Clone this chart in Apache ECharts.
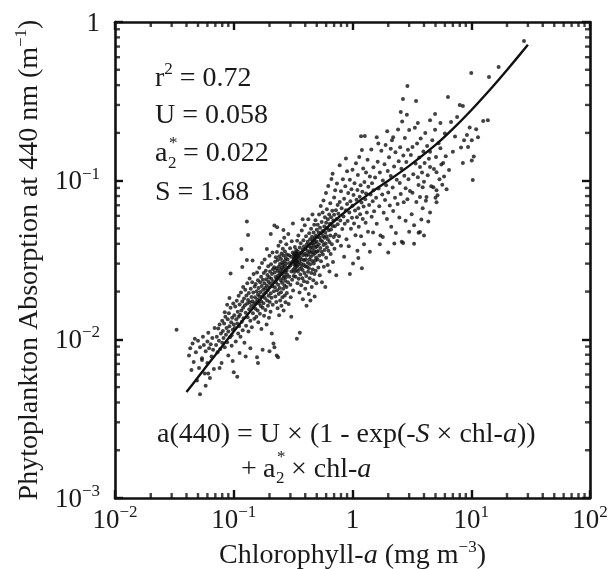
<!DOCTYPE html>
<html>
<head>
<meta charset="utf-8">
<script src="https://cdn.jsdelivr.net/npm/echarts@6/dist/echarts.min.js"></script>
<style>html,body{margin:0;padding:0;background:#fff;}#chart{width:608px;height:569px;}</style>
</head>
<body>
<div id="chart"></div>
<script>
// Scatter points: [chlorophyll-a (mg m^-3), a(440) (m^-1)]
const points = [
[0.042,0.0079],[0.043,0.0088],[0.045,0.0094],[0.046,0.0072],[0.047,0.0101],[0.048,0.0083],[0.05,0.0098],[0.051,0.0066],[0.052,0.0045],[0.052,0.0089],[0.054,0.0076],[0.055,0.0104],[0.056,0.0092],[0.057,0.0061],[0.058,0.0084],[0.06,0.0097],[0.06,0.0071],[0.061,0.011],[0.062,0.0088],[0.063,0.0057],[0.064,0.0093],[0.065,0.0078],[0.066,0.0102],[0.067,0.0086],[0.068,0.0065],[0.069,0.0118],[0.033,0.0115],[0.044,0.0064],[0.049,0.0055],[0.058,0.0051],
[0.071,0.0092],[0.072,0.0104],[0.073,0.0083],[0.074,0.0117],[0.075,0.0098],[0.076,0.0124],[0.077,0.0087],[0.078,0.0109],[0.079,0.0071],[0.08,0.0131],[0.08,0.0095],[0.081,0.0113],[0.082,0.0102],[0.083,0.0126],[0.084,0.0089],[0.085,0.0139],[0.086,0.0107],[0.087,0.0118],[0.088,0.0096],[0.089,0.0134],[0.09,0.0112],[0.09,0.0079],[0.091,0.0146],[0.092,0.0121],[0.093,0.0103],[0.094,0.0158],[0.095,0.0128],[0.096,0.0091],[0.097,0.0137],[0.098,0.0115],[0.099,0.0168],[0.1,0.0124],[0.094,0.026],[0.088,0.0165],[0.076,0.0066],[0.098,0.0073],[0.1,0.0062],[0.084,0.0148],[0.092,0.0182],[0.096,0.0106],
[0.101,0.0142],[0.102,0.0118],[0.103,0.0161],[0.104,0.0097],[0.105,0.0134],[0.106,0.0175],[0.107,0.0058],[0.107,0.0126],[0.108,0.0149],[0.109,0.0109],[0.11,0.0188],[0.11,0.0139],[0.111,0.0121],[0.112,0.0166],[0.113,0.0143],[0.114,0.0104],[0.115,0.0197],[0.116,0.0371],[0.116,0.0152],[0.117,0.0129],[0.118,0.0173],[0.119,0.0114],[0.12,0.0214],[0.12,0.0158],[0.121,0.0136],[0.122,0.0181],[0.123,0.0095],[0.124,0.0164],[0.125,0.0205],[0.126,0.0147],[0.127,0.0122],[0.128,0.0189],[0.129,0.0552],[0.13,0.0168],[0.13,0.0226],[0.131,0.0138],[0.132,0.0177],[0.133,0.0112],[0.134,0.0196],[0.135,0.0155],[0.136,0.0242],[0.137,0.0171],[0.138,0.0131],[0.139,0.0208],[0.14,0.0162],[0.141,0.0185],[0.142,0.0119],[0.143,0.0229],[0.144,0.0174],[0.145,0.0146],[0.146,0.0197],[0.147,0.0258],[0.148,0.0167],[0.149,0.0135],[0.15,0.0215],[0.112,0.0082],[0.126,0.0078],[0.138,0.0088],[0.118,0.0286],[0.144,0.0314],[0.129,0.0316],[0.132,0.0455],
[0.151,0.0184],[0.152,0.0156],[0.153,0.0223],[0.154,0.0171],[0.155,0.0139],[0.156,0.0201],[0.157,0.0264],[0.158,0.0178],[0.159,0.0152],[0.16,0.0236],[0.16,0.0192],[0.161,0.0128],[0.162,0.0211],[0.163,0.0168],[0.164,0.0283],[0.165,0.0187],[0.166,0.0145],[0.167,0.0229],[0.168,0.0199],[0.169,0.0162],[0.17,0.0248],[0.17,0.0174],[0.171,0.0116],[0.172,0.0217],[0.173,0.0303],[0.174,0.0186],[0.175,0.0086],[0.175,0.0158],[0.176,0.0237],[0.177,0.0205],[0.178,0.0169],[0.179,0.0262],[0.18,0.0193],[0.18,0.0141],[0.181,0.0226],[0.182,0.0318],[0.183,0.0182],[0.184,0.0211],[0.185,0.0153],[0.186,0.0271],[0.187,0.0197],[0.188,0.0239],[0.189,0.0124],[0.19,0.0371],[0.19,0.0218],[0.191,0.0176],[0.192,0.0254],[0.193,0.0204],[0.194,0.0163],[0.195,0.0289],[0.196,0.0231],[0.197,0.0188],[0.198,0.0137],[0.199,0.0246],[0.2,0.0212],[0.2,0.0336],[0.201,0.0172],[0.202,0.0268],[0.203,0.0225],[0.204,0.0149],[0.205,0.0195],[0.206,0.0297],[0.207,0.0241],[0.208,0.0183],[0.209,0.0109],[0.21,0.0258],[0.211,0.0216],[0.212,0.0352],[0.213,0.0165],[0.214,0.0277],[0.215,0.0232],[0.216,0.0094],[0.218,0.0201],[0.22,0.0522],[0.22,0.0089],[0.219,0.0285],[0.157,0.0077],[0.2,0.0084],[0.16,0.0071],[0.205,0.0462],
[0.221,0.0264],[0.222,0.0213],[0.223,0.0308],[0.224,0.0186],[0.225,0.0247],[0.226,0.0329],[0.227,0.0228],[0.228,0.0172],[0.229,0.0281],[0.23,0.0079],[0.23,0.0239],[0.231,0.0355],[0.232,0.0204],[0.233,0.0271],[0.234,0.0157],[0.235,0.0316],[0.236,0.0252],[0.237,0.0221],[0.238,0.0389],[0.239,0.0193],[0.24,0.0287],[0.24,0.0245],[0.241,0.0142],[0.242,0.0334],[0.243,0.0262],[0.244,0.0211],[0.245,0.0298],[0.246,0.0176],[0.247,0.0274],[0.248,0.0412],[0.249,0.0236],[0.25,0.0321],[0.25,0.0198],[0.251,0.0259],[0.252,0.0163],[0.253,0.0347],[0.254,0.0283],[0.255,0.0227],[0.256,0.0305],[0.257,0.0184],[0.258,0.0266],[0.259,0.0372],[0.26,0.0243],[0.26,0.0295],[0.261,0.0208],[0.262,0.0338],[0.263,0.0152],[0.264,0.0278],[0.265,0.0251],[0.266,0.0436],[0.267,0.0219],[0.268,0.0312],[0.269,0.0189],[0.27,0.0289],[0.27,0.0358],[0.271,0.0234],[0.272,0.0265],[0.273,0.0171],[0.274,0.0326],[0.275,0.0246],[0.276,0.0301],[0.277,0.0397],[0.278,0.0214],[0.279,0.0272],[0.28,0.0343],[0.28,0.0196],[0.282,0.0256],[0.284,0.0318],[0.286,0.0229],[0.288,0.0462],[0.29,0.0284],[0.29,0.0167],[0.292,0.0339],[0.294,0.0248],[0.296,0.0303],[0.298,0.0375],[0.3,0.0221],[0.3,0.0292],[0.302,0.0184],[0.304,0.0331],[0.306,0.0268],[0.308,0.0415],[0.31,0.0237],[0.312,0.0309],[0.314,0.0352],[0.316,0.0203],[0.318,0.0276],[0.32,0.0322],[0.32,0.0251],[0.305,0.0139],[0.232,0.0508],[0.262,0.0489],[0.315,0.0538],[0.236,0.0077],
[0.321,0.0342],[0.322,0.0297],[0.323,0.0318],[0.324,0.0266],[0.325,0.0335],[0.326,0.0309],[0.327,0.0382],[0.328,0.0284],[0.329,0.0327],[0.33,0.0351],[0.33,0.0302],[0.331,0.0248],[0.332,0.0339],[0.333,0.0316],[0.334,0.0293],[0.335,0.0365],[0.336,0.0328],[0.337,0.0274],[0.338,0.0311],[0.339,0.0347],[0.34,0.0101],[0.34,0.0322],[0.341,0.0289],[0.342,0.0418],[0.343,0.0337],[0.344,0.0226],[0.345,0.0305],[0.346,0.0359],[0.347,0.0268],[0.348,0.0331],[0.35,0.0296],[0.35,0.0452],[0.352,0.0241],[0.354,0.0345],[0.356,0.0312],[0.358,0.0197],[0.36,0.0379],[0.36,0.0278],[0.362,0.0327],[0.364,0.0256],[0.366,0.0403],[0.368,0.0301],[0.37,0.0219],[0.37,0.0352],[0.372,0.0287],[0.374,0.0486],[0.376,0.0318],[0.378,0.0243],[0.38,0.0367],[0.38,0.0274],[0.382,0.0179],[0.384,0.0339],[0.386,0.0421],[0.388,0.0296],[0.39,0.0232],[0.39,0.0384],[0.392,0.0315],[0.394,0.0262],[0.396,0.0523],[0.398,0.0346],[0.4,0.0289],[0.4,0.0208],[0.402,0.0372],[0.404,0.0318],[0.406,0.0447],[0.408,0.0251],[0.41,0.0338],[0.41,0.0163],[0.412,0.0396],[0.414,0.0287],[0.416,0.0229],[0.418,0.0361],[0.42,0.0412],[0.42,0.0304],[0.422,0.0267],[0.424,0.0572],[0.426,0.0342],[0.428,0.0193],[0.43,0.0387],[0.43,0.0281],[0.432,0.0466],[0.434,0.0319],[0.436,0.0243],[0.438,0.0358],[0.44,0.0428],[0.44,0.0297],[0.442,0.0176],[0.444,0.0376],[0.446,0.0332],[0.448,0.0498],[0.45,0.0262],[0.45,0.0401],[0.452,0.0354],[0.454,0.0214],[0.456,0.0443],[0.458,0.0312],[0.46,0.0612],[0.46,0.0378],[0.462,0.0276],[0.464,0.0419],[0.466,0.0341],[0.468,0.0236],[0.47,0.0472],[0.47,0.0395],[0.472,0.0301],[0.474,0.0362],[0.476,0.0528],[0.478,0.0258],[0.48,0.0433],[0.48,0.0186],[0.482,0.0349],[0.484,0.0407],[0.486,0.0314],[0.488,0.0563],[0.49,0.0271],[0.49,0.0381],[0.492,0.0452],[0.494,0.0328],[0.496,0.0226],[0.498,0.0414],[0.5,0.0357],[0.5,0.0491],[0.38,0.0571],[0.36,0.011],
[0.502,0.0386],[0.505,0.0442],[0.508,0.0318],[0.51,0.0527],[0.513,0.0361],[0.516,0.0284],[0.52,0.0471],[0.52,0.0398],[0.523,0.0612],[0.526,0.0337],[0.53,0.0439],[0.53,0.0253],[0.533,0.0505],[0.536,0.0376],[0.54,0.0693],[0.54,0.0421],[0.543,0.0311],[0.546,0.0467],[0.55,0.0548],[0.55,0.0357],[0.553,0.0229],[0.556,0.0413],[0.56,0.0629],[0.56,0.0482],[0.563,0.0342],[0.566,0.0448],[0.57,0.0751],[0.57,0.0393],[0.574,0.0287],[0.578,0.0514],[0.58,0.0436],[0.582,0.0365],[0.586,0.0588],[0.59,0.0471],[0.59,0.0214],[0.594,0.0402],[0.598,0.0837],[0.6,0.0542],[0.6,0.0327],[0.604,0.0446],[0.608,0.0661],[0.61,0.0381],[0.614,0.0503],[0.618,0.0294],[0.62,0.0572],[0.62,0.0428],[0.625,0.0925],[0.628,0.0362],[0.632,0.0487],[0.636,0.0613],[0.64,0.0411],[0.64,0.0268],[0.645,0.0536],[0.65,0.0721],[0.65,0.0452],[0.655,0.0345],[0.66,0.0589],[0.66,0.0493],[0.665,0.1023],[0.67,0.0397],[0.675,0.0647],[0.68,0.0518],[0.68,0.1105],[0.685,0.0307],[0.69,0.0562],[0.695,0.0441],[0.7,0.0784],[0.7,0.0609],[0.705,0.0372],[0.71,0.0516],[0.715,0.0869],[0.72,0.0458],[0.725,0.0652],[0.73,0.0253],[0.735,0.0574],[0.74,0.0961],[0.745,0.0416],[0.75,0.0703],[0.75,0.0531],
[0.76,0.0618],[0.77,0.0447],[0.78,0.1252],[0.78,0.0734],[0.79,0.0562],[0.8,0.0389],[0.8,0.0857],[0.81,0.0671],[0.82,0.0495],[0.83,0.1021],[0.84,0.0594],[0.85,0.0332],[0.85,0.0768],[0.86,0.0536],[0.87,0.0923],[0.88,0.0651],[0.89,0.0428],[0.9,0.1148],[0.9,0.0712],[0.91,0.0557],[0.92,0.0836],[0.93,0.0386],[0.94,0.0629],[0.95,0.1013],[0.96,0.0743],[0.97,0.0498],[0.98,0.0882],[0.99,0.0584],[1.0,0.117],[1.0,0.0695],[1.01,0.0301],[1.02,0.0812],[1.03,0.0537],[1.04,0.0964],[1.05,0.0648],[1.06,0.0453],[1.07,0.1286],[1.08,0.0759],[1.09,0.0589],[1.1,0.0874],[1.1,0.0362],[1.11,0.1087],[1.12,0.0671],[1.13,0.0512],[1.14,0.1412],[1.15,0.0793],[1.16,0.0614],[1.17,0.0935],[1.18,0.1905],[1.18,0.0446],[1.19,0.0728],[1.2,0.156],[1.2,0.0281],[1.21,0.0852],[1.22,0.0574],[1.23,0.1193],[1.24,0.0687],[1.25,0.0398],[1.26,0.0981],[1.27,0.191],[1.28,0.0763],[1.29,0.0542],[1.3,0.1124],[1.3,0.0829],[1.32,0.0631],[1.34,0.1357],[1.35,0.0476],[1.36,0.0914],[1.38,0.0702],[1.4,0.1062],[1.4,0.0357],[1.42,0.0818],[1.44,0.1573],[1.45,0.0593],[1.46,0.0963],[1.48,0.0741],[1.49,0.0472],[1.5,0.1214],[1.5,0.0869],[0.95,0.0258],[1.12,0.0325],[0.88,0.1378],
[1.52,0.0642],[1.55,0.1048],[1.58,0.0781],[1.6,0.188],[1.6,0.0536],[1.63,0.1315],[1.66,0.0893],[1.68,0.0689],[1.7,0.1127],[1.72,0.0452],[1.75,0.1542],[1.78,0.0817],[1.8,0.0441],[1.8,0.1004],[1.83,0.0628],[1.86,0.1268],[1.88,0.0756],[1.9,0.1681],[1.92,0.0934],[1.95,0.0573],[1.98,0.1152],[2.0,0.0352],[2.0,0.0842],[2.03,0.1406],[2.06,0.0697],[2.1,0.1071],[2.12,0.0512],[2.15,0.1795],[2.18,0.0905],[2.2,0.188],[2.2,0.0643],[2.24,0.1229],[2.28,0.0781],[2.3,0.1512],[2.32,0.0468],[2.36,0.1013],[2.4,0.0712],[2.42,0.2104],[2.45,0.1324],[2.48,0.0587],[2.5,0.0968],[2.52,0.1623],[2.55,0.0824],[2.58,0.1187],[2.6,0.0412],[2.62,0.2356],[2.66,0.327],[2.67,0.0405],[2.68,0.1442],[2.7,0.0731],[2.73,0.1075],[2.76,0.1857],[2.8,0.0896],[2.8,0.0558],[2.84,0.1309],[2.87,0.2602],[2.9,0.395],[2.9,0.0765],[2.93,0.1564],[2.96,0.1021],[3.0,0.0476],[3.0,0.2083],[1.65,0.1714],[1.96,0.2052],[2.25,0.0402],[2.55,0.2708],[1.7,0.0397],[2.1,0.1592],
[3.05,0.0862],[3.1,0.1452],[3.15,0.0614],[3.2,0.163],[3.2,0.084],[3.25,0.1096],[3.3,0.0523],[3.35,0.2152],[3.4,0.1284],[3.43,0.318],[3.45,0.0735],[3.5,0.1715],[3.55,0.231],[3.55,0.105],[3.6,0.0938],[3.65,0.1398],[3.7,0.079],[3.7,0.0475],[3.7,0.122],[3.75,0.1842],[3.8,0.057],[3.85,0.1124],[3.9,0.091],[3.9,0.067],[3.95,0.1527],[4.0,0.0984],[4.05,0.1291],[4.1,0.2],[4.15,0.0746],[4.2,0.079],[4.25,0.1656],[4.3,0.1082],[4.35,0.0553],[4.4,0.1373],[4.5,0.24],[4.5,0.152],[4.5,0.122],[4.5,0.063],[4.6,0.0921],[4.7,0.1795],[4.8,0.091],[4.85,0.1183],[4.96,0.263],[4.96,0.209],[5.0,0.078],[5.05,0.1412],[5.1,0.113],[5.1,0.087],[5.1,0.073],[5.2,0.081],[5.3,0.1724],[5.4,0.1019],[5.5,0.231],[5.5,0.16],[5.6,0.1265],[5.7,0.0941],[5.8,0.129],[5.9,0.1063],[6.0,0.1983],[6.1,0.1427],[6.2,0.0882],[6.37,0.337],[6.5,0.1166],[6.76,0.234],[7.0,0.1521],[7.3,0.1896],[7.6,0.252],[8.0,0.3],[8.2,0.162],[8.5,0.296],[8.5,0.129],[8.7,0.18],[9.2,0.194],[9.4,0.163],[9.7,0.216],[3.3,0.0401],[3.6,0.0469],[4.0,0.0452],
[10.0,0.477],[10.1,0.18],[10.1,0.134],[10.5,0.142],[11.4,0.188],[12.6,0.238],[13.8,0.24],[14.1,0.45],[17.0,0.52],[27.8,0.76],[10.3,0.101],[11.0,0.211],
[0.061,0.0061],[0.054,0.0074]
];

// Fitted curve: [chl-a, a(440)]
const curveChl = [0.04,0.05,0.07,0.1,0.15,0.2,0.3,0.4,0.5,0.7,1,1.5,2,3,5,7,10,15,20,30];
const curveAbs = [0.00465,0.00577,0.00797,0.0112,0.0162,0.021,0.0296,0.0372,0.044,0.0555,0.0692,0.0863,0.1,0.124,0.168,0.212,0.278,0.388,0.498,0.718];

// Axis ranges and minor tick values
const xRange = [0.01, 100];
const yRange = [0.001, 1];
const xMinorTicks = [0.02,0.03,0.04,0.05,0.06,0.07,0.08,0.09,0.2,0.3,0.4,0.5,0.6,0.7,0.8,0.9,2,3,4,5,6,7,8,9,20,30,40,50,60,70,80,90];
const yMinorTicks = [0.002,0.003,0.004,0.005,0.006,0.007,0.008,0.009,0.02,0.03,0.04,0.05,0.06,0.07,0.08,0.09,0.2,0.3,0.4,0.5,0.6,0.7,0.8,0.9];

// Annotation texts
const statLines = ['= 0.72', 'U = 0.058', '= 0.022', 'S = 1.68'];

const FONT = 'Liberation Serif';
const FS = 28;
const SUP = 17;
const INK = '#1a1a1a';

function tickLabel(v) {
  const e = Math.round(Math.log10(v));
  if (e === 0) return '{b|1}';
  return '{b|10}{s|' + (e < 0 ? '\u2212' : '') + Math.abs(e) + '}';
}
const labelRich = {
  b: {fontSize: 27, fontFamily: FONT, color: INK, lineHeight: 30, verticalAlign: 'bottom'},
  s: {fontSize: SUP, fontFamily: FONT, color: INK, lineHeight: 17, verticalAlign: 'top'}
};
const nameRich = {
  t: {fontSize: FS, fontFamily: FONT, color: INK, lineHeight: 31, verticalAlign: 'bottom'},
  i: {fontSize: FS, fontFamily: FONT, fontStyle: 'italic', color: INK, lineHeight: 31, verticalAlign: 'bottom'},
  s: {fontSize: SUP, fontFamily: FONT, color: INK, lineHeight: 17, verticalAlign: 'top'}
};
const axisLineStyle = {color: '#111', width: 2.6};
const TICK = 8, MINOR = 5, TW = 2.4;

function baseAxis(extra) {
  return Object.assign({
    type: 'log', logBase: 10,
    axisLine: {show: true, onZero: false, lineStyle: axisLineStyle},
    axisTick: {show: true, inside: true, length: TICK, lineStyle: {color: '#111', width: TW}},
    splitLine: {show: false},
    minorTick: {show: false},
    minorSplitLine: {show: false}
  }, extra);
}

function tickSeries(data, size, offset) {
  return {
    type: 'scatter', xAxisIndex: 0, yAxisIndex: 0, data: data,
    symbol: 'rect', symbolSize: size, symbolOffset: offset,
    itemStyle: {color: '#111'}, silent: true, clip: false, z: 5
  };
}

const chart = echarts.init(document.getElementById('chart'), null, {renderer: 'canvas'});

const gRich = {
  m: {fontSize: FS, fontFamily: FONT, fill: INK, lineHeight: 31, verticalAlign: 'bottom'},
  i: {fontSize: FS, fontFamily: FONT, fontStyle: 'italic', fill: INK, lineHeight: 31, verticalAlign: 'bottom'},
  s: {fontSize: SUP, fontFamily: FONT, fill: INK, lineHeight: 17, verticalAlign: 'top'}
};
function richText(x, y, text) {
  return {type: 'text', x: x, y: y, silent: true,
    style: {text: text, verticalAlign: 'middle', align: 'left', rich: gRich,
            fontSize: FS, fontFamily: FONT, fill: INK}};
}
function smallText(x, y, text) {
  return {type: 'text', x: x, y: y, silent: true,
    style: {text: text, verticalAlign: 'middle', align: 'left',
            fontSize: SUP, fontFamily: FONT, fill: INK}};
}

chart.setOption({
  animation: false,
  backgroundColor: '#fff',
  grid: {left: 115, top: 22, right: 18, bottom: 71, containLabel: false, outerBoundsMode: 'none'},
  xAxis: [
    baseAxis({
      position: 'bottom', min: xRange[0], max: xRange[1],
      axisLabel: {show: true, margin: 6, formatter: tickLabel, rich: labelRich, showMinLabel: true, showMaxLabel: true},
      name: '{t|Chlorophyll-}{i|a}{t| (mg m}{s|\u22123}{t|)}',
      nameLocation: 'middle', nameGap: 38,
      nameTextStyle: {rich: nameRich, fontSize: FS, fontFamily: FONT, color: INK}
    }),
    baseAxis({position: 'top', min: xRange[0], max: xRange[1], axisLabel: {show: false}})
  ],
  yAxis: [
    baseAxis({
      position: 'left', min: yRange[0], max: yRange[1],
      axisLabel: {show: true, margin: 15, formatter: tickLabel, rich: labelRich, showMinLabel: true, showMaxLabel: true},
      name: '{t|Phytoplankton Absorption at 440 nm (m}{s|\u22121}{t|)}',
      nameLocation: 'middle', nameRotate: 90, nameGap: 67,
      nameTextStyle: {rich: nameRich, fontSize: FS, fontFamily: FONT, color: INK}
    }),
    baseAxis({position: 'right', min: yRange[0], max: yRange[1], axisLabel: {show: false}})
  ],
  series: [
    {
      type: 'scatter', xAxisIndex: 0, yAxisIndex: 0,
      data: points, symbol: 'circle', symbolSize: 4,
      itemStyle: {color: '#111'},
      silent: true, z: 2
    },
    {
      type: 'line', xAxisIndex: 0, yAxisIndex: 0,
      data: curveChl.map((c, k) => [c, curveAbs[k]]),
      showSymbol: false, smooth: 0.3,
      lineStyle: {color: '#111', width: 2.4}, silent: true, z: 3
    },
    // minor ticks, inside the frame on all four sides
    tickSeries(xMinorTicks.map(v => [v, yRange[0]]), [TW, MINOR], [0, -MINOR / 2]),
    tickSeries(xMinorTicks.map(v => [v, yRange[1]]), [TW, MINOR], [0, MINOR / 2]),
    tickSeries(yMinorTicks.map(v => [xRange[0], v]), [MINOR, TW], [MINOR / 2, 0]),
    tickSeries(yMinorTicks.map(v => [xRange[1], v]), [MINOR, TW], [-MINOR / 2, 0])
  ],
  graphic: [
    richText(155, 77, '{m|r}{s|2}{m| ' + statLines[0] + '}'),
    richText(155, 114, '{m|' + statLines[1] + '}'),
    richText(155, 152, '{m|a}'),
    smallText(168, 164, '2'),
    smallText(169, 144, '*'),
    richText(183, 152, '{m|' + statLines[2] + '}'),
    richText(155, 191, '{m|' + statLines[3] + '}'),
    richText(157, 433, '{m|a(440) = U \u00d7 (1 - exp(-}{i|S}{m| \u00d7 chl-}{i|a}{m|))}'),
    richText(241, 468, '{m|+}'),
    richText(263, 468, '{m|a}'),
    smallText(276, 479, '2'),
    smallText(277, 458, '*'),
    richText(291, 468, '{m|\u00d7 chl-}{i|a}')
  ]
});
</script>
</body>
</html>
